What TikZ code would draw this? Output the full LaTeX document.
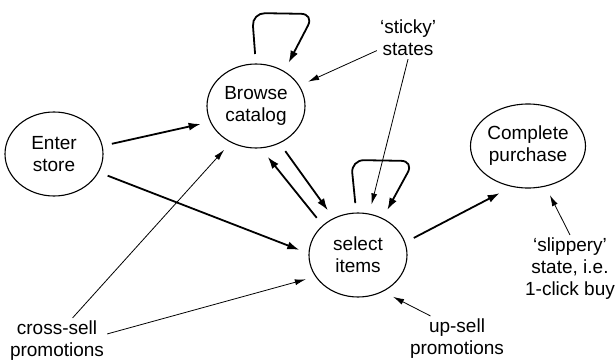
\documentclass[tikz,border=0pt]{standalone}
\usepackage{fontspec}
\setmainfont{Liberation Sans}
\usetikzlibrary{shapes.geometric, arrows.meta}
\tikzset{
    shopstate/.style={ellipse, draw, line width=1.1pt, minimum width=98pt, minimum height=84pt, inner sep=0pt, outer sep=10pt, align=center, font=\fontsize{19}{22}\selectfont},
    note/.style={inner sep=3pt, align=center, font=\fontsize{19}{22}\selectfont},
    arrow/.style={line width=1.8pt, -{Latex[length=12pt,width=8pt]}},
    notearrow/.style={line width=0.8pt, -{Latex[length=11pt,width=6pt]}}
}

\begin{document}
\begin{tikzpicture}[x=1pt, y=-1pt]
    \useasboundingbox (0,0) rectangle (616,361);

    % Shopping states
    \node[shopstate] (enter) at (54,154) {Enter\\store};
    \node[shopstate] (browse) at (256,106) {Browse\\catalog};
    \node[shopstate] (select) at (358,255) {select\\items};
    \node[shopstate] (complete) at (528,146) {Complete\\purchase};

    % Annotations
    \node[note] (sticky) at (408,38) {`sticky'\\states};
    \node[note] (slippery) at (570,269) {`slippery'\\state, i.e.\\1-click buy};
    \node[note] (crosssell) at (57,341) {cross-sell\\promotions};
    \node[note] (upsell) at (457,339) {up-sell\\promotions};

    % Transitions
    \draw[arrow] (enter.10) -- (browse.198);
    \draw[arrow] (enter.338) -- (select.175);
    \draw[arrow] (select.138) -- (browse.283);
    \draw[arrow] (browse.303) -- (select.124);
    \draw[arrow] (select.17) -- (complete.239);

    % Self loops
    \draw[arrow, rounded corners=13pt] (browse.91) -- (252,13) -- (314,14) -- (browse.53);
    \draw[arrow, rounded corners=13pt] (select.93) -- (351,160) -- (414,161) -- (select.57);

    % Annotation arrows
    \draw[notearrow] (sticky.202) -- (browse.25);
    \draw[notearrow] (sticky.south) -- (select.75);
    \draw[notearrow] (crosssell.56) -- (browse.234);
    \draw[notearrow] (crosssell.8) -- (select.205);
    \draw[notearrow] (upsell.139) -- (select.310);
    \draw[notearrow] (slippery.north) -- (complete.294);

\end{tikzpicture}
\end{document}
